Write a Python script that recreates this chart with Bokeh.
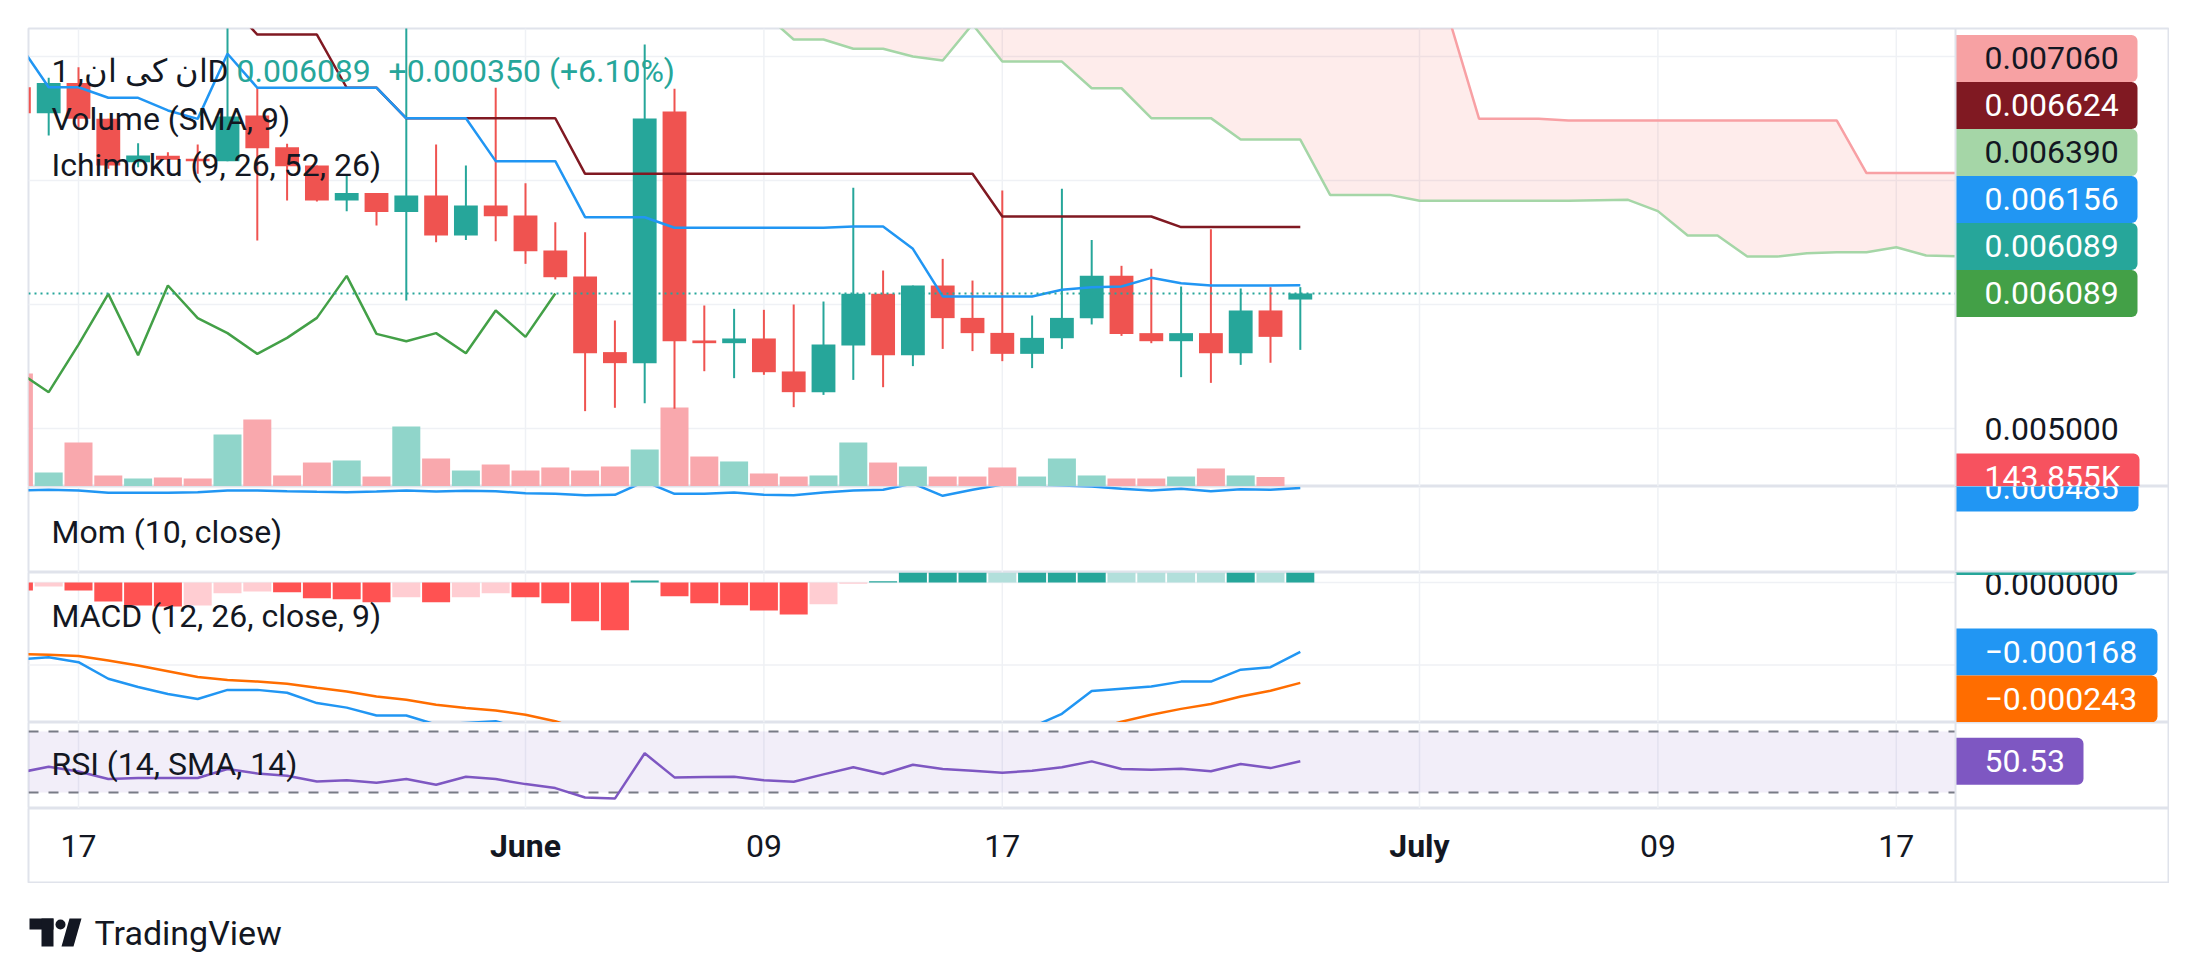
from bokeh.plotting import figure
from bokeh.models import Range1d, Span
from bokeh.layouts import column
from bokeh.embed import file_html
from bokeh.resources import INLINE
from bokeh.core.properties import value

# ------------------------------------------------------------------ data
# x = day offset from 17 May (daily candles 15 May .. 27 June)
days = list(range(-2, 42))
opens = [0.007753, 0.007543, 0.007787, 0.007497, 0.007148, 0.007199, 0.007175, 0.007156, 0.007524, 0.007269,
         0.007121, 0.006839, 0.006900, 0.006745, 0.006879, 0.006556, 0.006798, 0.006718, 0.006435, 0.006226,
         0.005616, 0.005527, 0.007556, 0.005710, 0.005688, 0.005726, 0.005460, 0.005293, 0.005669, 0.006086,
         0.005591, 0.006153, 0.005892, 0.005771, 0.005602, 0.005728, 0.005890, 0.006231, 0.005769, 0.005704,
         0.005769, 0.005607, 0.005952, 0.006040]
highs = [0.007770, 0.007828, 0.007914, 0.007497, 0.007301, 0.007228, 0.007290, 0.008400, 0.007747, 0.007296,
         0.007121, 0.007040, 0.006900, 0.008400, 0.007290, 0.007121, 0.007747, 0.006978, 0.006664, 0.006583,
         0.005871, 0.008097, 0.007739, 0.005992, 0.005965, 0.005957, 0.006000, 0.006024, 0.006941, 0.006274,
         0.006153, 0.006368, 0.006193, 0.006919, 0.005911, 0.006933, 0.006521, 0.006312, 0.006288, 0.006145,
         0.006607, 0.006129, 0.006140, 0.006140]
lows = [0.007520, 0.007363, 0.007430, 0.007094, 0.007107, 0.007054, 0.007054, 0.007156, 0.006516, 0.006839,
        0.006831, 0.006753, 0.006637, 0.006032, 0.006503, 0.006521, 0.006511, 0.006328, 0.006202, 0.005140,
        0.005167, 0.005204, 0.005159, 0.005462, 0.005406, 0.005433, 0.005172, 0.005271, 0.005392, 0.005333,
        0.005503, 0.005642, 0.005624, 0.005543, 0.005487, 0.005642, 0.005839, 0.005747, 0.005688, 0.005414,
        0.005368, 0.005513, 0.005530, 0.005634]
closes = [0.007543, 0.007787, 0.007497, 0.007121, 0.007201, 0.007167, 0.007156, 0.007516, 0.007261, 0.007115,
          0.006839, 0.006900, 0.006745, 0.006879, 0.006556, 0.006798, 0.006712, 0.006430, 0.006220, 0.005607,
          0.005527, 0.007500, 0.005704, 0.005688, 0.005726, 0.005454, 0.005293, 0.005677, 0.006086, 0.005591,
          0.006153, 0.005890, 0.005769, 0.005602, 0.005731, 0.005892, 0.006231, 0.005763, 0.005704, 0.005769,
          0.005607, 0.005952, 0.005739, 0.006089]
# volume in thousands (15 May .. 26 June)
volume_k = [1711, 212, 666, 167, 121, 136, 121, 787, 1014, 167,
            363, 394, 151, 908, 424, 242, 333, 242, 288, 242,
            303, 560, 1196, 454, 379, 197, 151, 167, 666, 363,
            303, 151, 151, 288, 151, 424, 167, 121, 121, 151,
            273, 167, 143.855]
tenkan = [0.008103, 0.007752, 0.007752, 0.007667, 0.007667, 0.007565, 0.007497, 0.008022, 0.007748, 0.007748,
          0.007748, 0.007748, 0.007748, 0.007502, 0.007502, 0.007502, 0.007156, 0.007156, 0.007156, 0.006704,
          0.006704, 0.006704, 0.006619, 0.006619, 0.006619, 0.006619, 0.006619, 0.006619, 0.006629, 0.006629,
          0.006449, 0.006065, 0.006065, 0.006065, 0.006065, 0.006119, 0.006140, 0.006145, 0.006215, 0.006172,
          0.006153, 0.006153, 0.006153, 0.006156]
kijun = [0.008435, 0.008435, 0.008435, 0.008435, 0.008435, 0.008435, 0.008435, 0.008435, 0.008177, 0.008177,
         0.008177, 0.007748, 0.007748, 0.007502, 0.007502, 0.007502, 0.007502, 0.007502, 0.007502, 0.007054,
         0.007054, 0.007054, 0.007054, 0.007054, 0.007054, 0.007054, 0.007054, 0.007054, 0.007054, 0.007054,
         0.007054, 0.007054, 0.007054, 0.006710, 0.006710, 0.006710, 0.006710, 0.006710, 0.006710, 0.006624,
         0.006624, 0.006624, 0.006624, 0.006624]
cloud_days = list(range(23, 64))
span_a = [0.008350, 0.008137, 0.008137, 0.008062, 0.008062, 0.008000, 0.007968, 0.008260, 0.007959, 0.007959,
          0.007959, 0.007744, 0.007744, 0.007503, 0.007503, 0.007503, 0.007330, 0.007330, 0.007330, 0.006884,
          0.006884, 0.006884, 0.006836, 0.006836, 0.006836, 0.006836, 0.006836, 0.006836, 0.006840, 0.006844,
          0.006753, 0.006556, 0.006556, 0.006387, 0.006387, 0.006414, 0.006422, 0.006422, 0.006462, 0.006395,
          0.006390]
span_b = [0.008500, 0.008500, 0.008500, 0.008500, 0.008500, 0.008500, 0.008500, 0.008500, 0.008500, 0.008500,
          0.008500, 0.008500, 0.008500, 0.008500, 0.008500, 0.008500, 0.008500, 0.008500, 0.008500, 0.008500,
          0.008500, 0.008500, 0.008500, 0.008300, 0.007497, 0.007497, 0.007497, 0.007484, 0.007484, 0.007484,
          0.007484, 0.007484, 0.007484, 0.007484, 0.007484, 0.007484, 0.007484, 0.007060, 0.007060, 0.007060,
          0.007060]
mom = [0.000460, 0.000467, 0.000460, 0.000437, 0.000437, 0.000437, 0.000443, 0.000460, 0.000460, 0.000453,
       0.000447, 0.000443, 0.000450, 0.000460, 0.000450, 0.000457, 0.000453, 0.000433, 0.000427, 0.000413,
       0.000417, 0.000550, 0.000427, 0.000427, 0.000440, 0.000417, 0.000413, 0.000440, 0.000460, 0.000467,
       0.000530, 0.000407, 0.000467, 0.000520, 0.000520, 0.000510, 0.000500, 0.000477, 0.000460, 0.000477,
       0.000453, 0.000473, 0.000467, 0.000485]
macd = [-0.000186, -0.000181, -0.000193, -0.000233, -0.000253, -0.000270, -0.000282, -0.000260, -0.000260, -0.000267,
        -0.000292, -0.000303, -0.000322, -0.000322, -0.000344, -0.000340, -0.000336, -0.000356, -0.000386, -0.000453,
        -0.000503, -0.000382, -0.000428, -0.000458, -0.000477, -0.000507, -0.000536, -0.000524, -0.000475, -0.000468,
        -0.000435, -0.000405, -0.000385, -0.000380, -0.000350, -0.000318, -0.000263, -0.000257, -0.000252, -0.000240,
        -0.000240, -0.000211, -0.000205, -0.000168]
signal = [-0.000173, -0.000175, -0.000178, -0.000189, -0.000201, -0.000215, -0.000229, -0.000236, -0.000240, -0.000245,
          -0.000255, -0.000264, -0.000276, -0.000284, -0.000296, -0.000304, -0.000310, -0.000320, -0.000336, -0.000359,
          -0.000388, -0.000387, -0.000395, -0.000408, -0.000422, -0.000439, -0.000458, -0.000471, -0.000472, -0.000471,
          -0.000463, -0.000450, -0.000435, -0.000422, -0.000405, -0.000381, -0.000357, -0.000337, -0.000320, -0.000306,
          -0.000294, -0.000276, -0.000262, -0.000243]
hist = [-0.0000194, -0.0000097, -0.0000194, -0.0000460, -0.0000557, -0.0000580, -0.0000557, -0.0000259, -0.0000218, -0.0000235,
        -0.0000380, -0.0000404, -0.0000477, -0.0000356, -0.0000477, -0.0000356, -0.0000259, -0.0000356, -0.0000501, -0.0000937,
        -0.0001155, 0.0000050, -0.0000332, -0.0000501, -0.0000550, -0.0000678, -0.0000775, -0.0000525, -0.0000030, 0.0000030,
        0.0000300, 0.0000500, 0.0000600, 0.0000400, 0.0000470, 0.0000630, 0.0000940, 0.0000800, 0.0000680, 0.0000660,
        0.0000540, 0.0000650, 0.0000570, 0.0000750]
rsi = [43.0, 46.9, 43.8, 38.8, 39.5, 39.5, 39.5, 45.4, 42.5, 41.0,
       37.2, 38.1, 36.4, 38.8, 35.1, 40.3, 38.8, 35.5, 32.9, 26.7,
       26.0, 55.7, 39.9, 40.1, 40.3, 38.1, 37.0, 41.9, 46.5, 42.1,
       48.2, 45.4, 44.3, 43.0, 44.3, 46.5, 50.4, 45.4, 44.9, 45.6,
       43.9, 48.7, 46.0, 50.53]
price_ticks = [0.005, 0.006, 0.007, 0.008]
macd_ticks = [0.0, -0.0002]
date_ticks = [0, 15, 23, 31, 45, 53, 61]
date_labels = ["17", "June", "09", "17", "July", "09", "17"]
bold_labels = ["June", "July"]
symbol_title = "ان کی ان, 1D"
legend_volume = "Volume (SMA, 9)"
legend_ichimoku = "Ichimoku (9, 26, 52, 26)"
legend_mom = "Mom (10, close)"
legend_macd = "MACD (12, 26, close, 9)"
legend_rsi = "RSI (14, SMA, 14)"
brand = "TradingView"

# ------------------------------------------------------------------ style
FONT = value("Roboto")
TEXT = "#131722"
BORDER = "#e0e3eb"
GRID = "#eff1f5"
UP, DOWN = "#26a69a", "#ef5350"
VOL_UP, VOL_DOWN = "#90d5ca", "#f9a8ad"
TENKAN, KIJUN, CHIKOU = "#2196f3", "#801922", "#43a047"
A_LINE, B_LINE, B_BOX = "#a5d6a7", "#f8a0a4", "#f7a1a3"

# ------------------------------------------------------------------ layout
FRAME_LEFT_PX = 28
LEFT_PAD = 28
FRAME_W = 2141
FIG_W = LEFT_PAD + FRAME_W
DAY0_PX = 78
PX_PER_DAY = 29.8
AXIS_PX = 1955
X0 = (FRAME_LEFT_PX - DAY0_PX) / PX_PER_DAY
X1 = X0 + FRAME_W / PX_PER_DAY
XR = Range1d(X0, X1)


def xp(px):
    return X0 + (px - FRAME_LEFT_PX) / PX_PER_DAY


AXIS_X = xp(AXIS_PX)


class Pane:
    def __init__(self, top, h, y0, y1):
        self.top, self.h, self.y0, self.y1 = top, h, y0, y1

    def yp(self, px):
        return self.y1 - (px - self.top) / self.h * (self.y1 - self.y0)

    def px(self, v):
        return self.top + (self.y1 - v) / (self.y1 - self.y0) * self.h

    def dpx(self, n):
        return n / self.h * (self.y1 - self.y0)


MAIN = Pane(28, 458, 0.005 - 58 / 124000, 0.005 + 400 / 124000)
MOM = Pane(486, 86, 0.0005 - 86e-5, 0.0005)
MACD = Pane(572, 150, -140 / 413000, 10 / 413000)
RSI = Pane(722, 86, 30 - 16 / 1.525, 70 + 9 / 1.525)
TIME = Pane(808, 75, 0, 1)
VOL_MAX = 458 * 15.14


def make_fig(pane, border_top=0):
    p = figure(width=FIG_W, height=pane.h + border_top, x_range=XR,
               y_range=Range1d(pane.y0, pane.y1), output_backend="svg",
               toolbar_location=None, x_axis_location=None, y_axis_location=None,
               title=None, min_border_left=LEFT_PAD, min_border_right=0,
               min_border_top=border_top, min_border_bottom=0,
               outline_line_color=BORDER, outline_line_width=2,
               background_fill_color="white", border_fill_color="white")
    p.grid.visible = False
    return p


def add_vgrid(p):
    for t in date_ticks:
        p.add_layout(Span(location=t, dimension="height", line_color=GRID,
                          line_width=1.5, level="underlay"))


def add_axis_sep(p):
    p.add_layout(Span(location=AXIS_X, dimension="height", line_color=BORDER, line_width=2))


def hgrid(p, ticks):
    p.segment(x0=[X0] * len(ticks), x1=[AXIS_X] * len(ticks), y0=ticks, y1=ticks,
              line_color=GRID, line_width=1.5)


def txt(p, x, y, s, color=TEXT, size="32px", align="left", style="normal"):
    p.text(x=[x], y=[y], text=[s], text_font=FONT, text_font_size=size,
           text_color=color, text_align=align, text_baseline="middle",
           text_font_style=style)


def fmt(v, n=6):
    return f"{v:.{n}f}".replace("-", "\u2212")


def label(p, pane, center_px, right_px, fill, text=None, text_color="white"):
    y = pane.yp(center_px)
    hh = pane.dpx(23.5)
    kw = dict(left=[AXIS_X], right=[xp(right_px)], bottom=[y - hh], top=[y + hh],
              fill_color=fill, line_color=None)
    try:
        p.quad(border_radius=(0, 6, 6, 0), **kw)
    except Exception:
        p.quad(**kw)
    if text is not None:
        txt(p, xp(1984), y, text, color=text_color)


# ------------------------------------------------------------------ main pane
pm = make_fig(MAIN, border_top=28)
pm.extra_y_ranges = {"vol": Range1d(0, VOL_MAX)}
add_vgrid(pm)
hgrid(pm, price_ticks)

pm.varea(x=cloud_days, y1=span_a, y2=span_b, fill_color="#f44336", fill_alpha=0.1)
pm.line(cloud_days, span_a, line_color=A_LINE, line_width=2.5)
pm.line(cloud_days, span_b, line_color=B_LINE, line_width=2.5)

vol_colors = [VOL_UP if c >= o else VOL_DOWN for o, c in zip(opens, closes)]
pm.vbar(x=days[:len(volume_k)], top=volume_k, bottom=0, width=0.94,
        fill_color=vol_colors[:len(volume_k)], line_color=None, y_range_name="vol")

cols = [UP if c >= o else DOWN for o, c in zip(opens, closes)]
pm.segment(x0=days, x1=days, y0=lows, y1=highs, line_color=cols, line_width=2)
pm.vbar(x=days, top=[max(o, c) for o, c in zip(opens, closes)],
        bottom=[min(o, c) for o, c in zip(opens, closes)], width=0.8,
        fill_color=cols, line_color=None)

lag = 25
pm.line(days[:-lag], closes[lag:], line_color=CHIKOU, line_width=2.5)
pm.line(days, kijun, line_color=KIJUN, line_width=2.5)
pm.line(days, tenkan, line_color=TENKAN, line_width=2.5)
pm.segment(x0=[X0], x1=[AXIS_X], y0=[closes[-1]], y1=[closes[-1]],
           line_color=UP, line_width=2, line_dash="2 4")

add_axis_sep(pm)
txt(pm, xp(1984), price_ticks[0], fmt(price_ticks[0]))

entries = [(span_b[-1], B_BOX, TEXT), (kijun[-1], KIJUN, "white"),
           (span_a[-1], A_LINE, TEXT), (tenkan[-1], TENKAN, "white"),
           (closes[-1], UP, "white"), (closes[-1], CHIKOU, "white")]
centers = []
below = None
for v, f, tc in reversed(entries):
    c = MAIN.px(v)
    if below is not None:
        c = min(c, below - 47)
    centers.append(c)
    below = c
centers.reverse()
for (v, f, tc), c in zip(entries, centers):
    label(pm, MAIN, c, 2137, f, fmt(v), tc)
vol_px = MAIN.top + MAIN.h - volume_k[-1] / VOL_MAX * MAIN.h
label(pm, MAIN, vol_px, 2139, "#f7525f", f"{volume_k[-1]:.3f}K")

chg = closes[-1] - closes[-2]
txt(pm, xp(51), MAIN.yp(70), symbol_title)
txt(pm, xp(236), MAIN.yp(70), fmt(closes[-1]), color=UP)
txt(pm, xp(388), MAIN.yp(70), f"+{chg:.6f} (+{chg / closes[-2] * 100:.2f}%)", color=UP)
txt(pm, xp(51), MAIN.yp(118), legend_volume)
txt(pm, xp(51), MAIN.yp(164), legend_ichimoku)

# ------------------------------------------------------------------ momentum pane
pmo = make_fig(MOM)
add_vgrid(pmo)
pmo.line(days, mom, line_color=TENKAN, line_width=2.5)
add_axis_sep(pmo)
label(pmo, MOM, MOM.px(mom[-1]), 2138, TENKAN, fmt(mom[-1]))
txt(pmo, xp(51), MOM.yp(531), legend_mom)

# ------------------------------------------------------------------ MACD pane
pma = make_fig(MACD)
add_vgrid(pma)
hgrid(pma, macd_ticks)
hcols = []
for i, h in enumerate(hist):
    prev = hist[i - 1] if i > 0 else None
    if h >= 0:
        hcols.append("#26a69a" if prev is None or h > prev else "#b2dfdb")
    else:
        hcols.append("#ff5252" if prev is None or h < prev else "#ffcdd2")
pma.vbar(x=days, top=hist, bottom=0, width=0.94, fill_color=hcols, line_color=None)
pma.line(days, macd, line_color="#2196f3", line_width=2.5)
pma.line(days, signal, line_color="#ff6d00", line_width=2.5)
add_axis_sep(pma)
txt(pma, xp(1984), MACD.yp(MACD.px(macd_ticks[0]) + 1), fmt(macd_ticks[0]))
label(pma, MACD, MACD.px(hist[-1]), 2137, "#26a69a")
c_macd = MACD.px(macd[-1])
c_sig = max(MACD.px(signal[-1]), c_macd + 47)
label(pma, MACD, c_macd, 2157, "#2196f3", fmt(macd[-1]))
label(pma, MACD, c_sig, 2157, "#ff6d00", fmt(signal[-1]))
txt(pma, xp(51), MACD.yp(615), legend_macd)

# ------------------------------------------------------------------ RSI pane
pr = make_fig(RSI)
add_vgrid(pr)
pr.quad(left=[X0], right=[AXIS_X], bottom=[30], top=[70], fill_color="#7e57c2",
        fill_alpha=0.1, line_color=None)
pr.segment(x0=[X0, X0], x1=[AXIS_X, AXIS_X], y0=[70, 30], y1=[70, 30],
           line_color="#787b86", line_width=2, line_dash="10 10")
pr.line(days, rsi, line_color="#7e57c2", line_width=2.5)
add_axis_sep(pr)
label(pr, RSI, RSI.px(rsi[-1]), 2083, "#7e57c2", f"{rsi[-1]:.2f}")
txt(pr, xp(51), RSI.yp(763), legend_rsi)

# ------------------------------------------------------------------ time axis
pt = make_fig(TIME)
add_axis_sep(pt)
for t, lab in zip(date_ticks, date_labels):
    txt(pt, t, 0.5, lab, align="center", style="bold" if lab in bold_labels else "normal")

# ------------------------------------------------------------------ footer / logo
# footer frame is aligned with the panes' frames: x in page pixels from 28
pf = figure(width=FIG_W, height=80, x_range=Range1d(LEFT_PAD, FIG_W), y_range=Range1d(80, 0),
            output_backend="svg", toolbar_location=None, x_axis_location=None,
            y_axis_location=None, title=None, min_border_left=LEFT_PAD, min_border_right=0,
            min_border_top=0, min_border_bottom=0, outline_line_color=None,
            background_fill_color="white", border_fill_color="white")
pf.grid.visible = False
pf.quad(left=[29, 41], right=[53, 53], top=[35, 35], bottom=[46, 63], fill_color=TEXT, line_color=None)
pf.circle(x=[60], y=[41], radius=5, fill_color=TEXT, line_color=None)
pf.patch(x=[61, 73, 81, 69], y=[63, 63, 35, 35], fill_color=TEXT, line_color=None)
pf.text(x=[94], y=[49], text=[brand], text_font=FONT, text_font_size="34px",
        text_color=TEXT, text_align="left", text_baseline="middle")

layout = column(pm, pmo, pma, pr, pt, pf, spacing=0)
open("out.html", "w").write(file_html(layout, INLINE))
